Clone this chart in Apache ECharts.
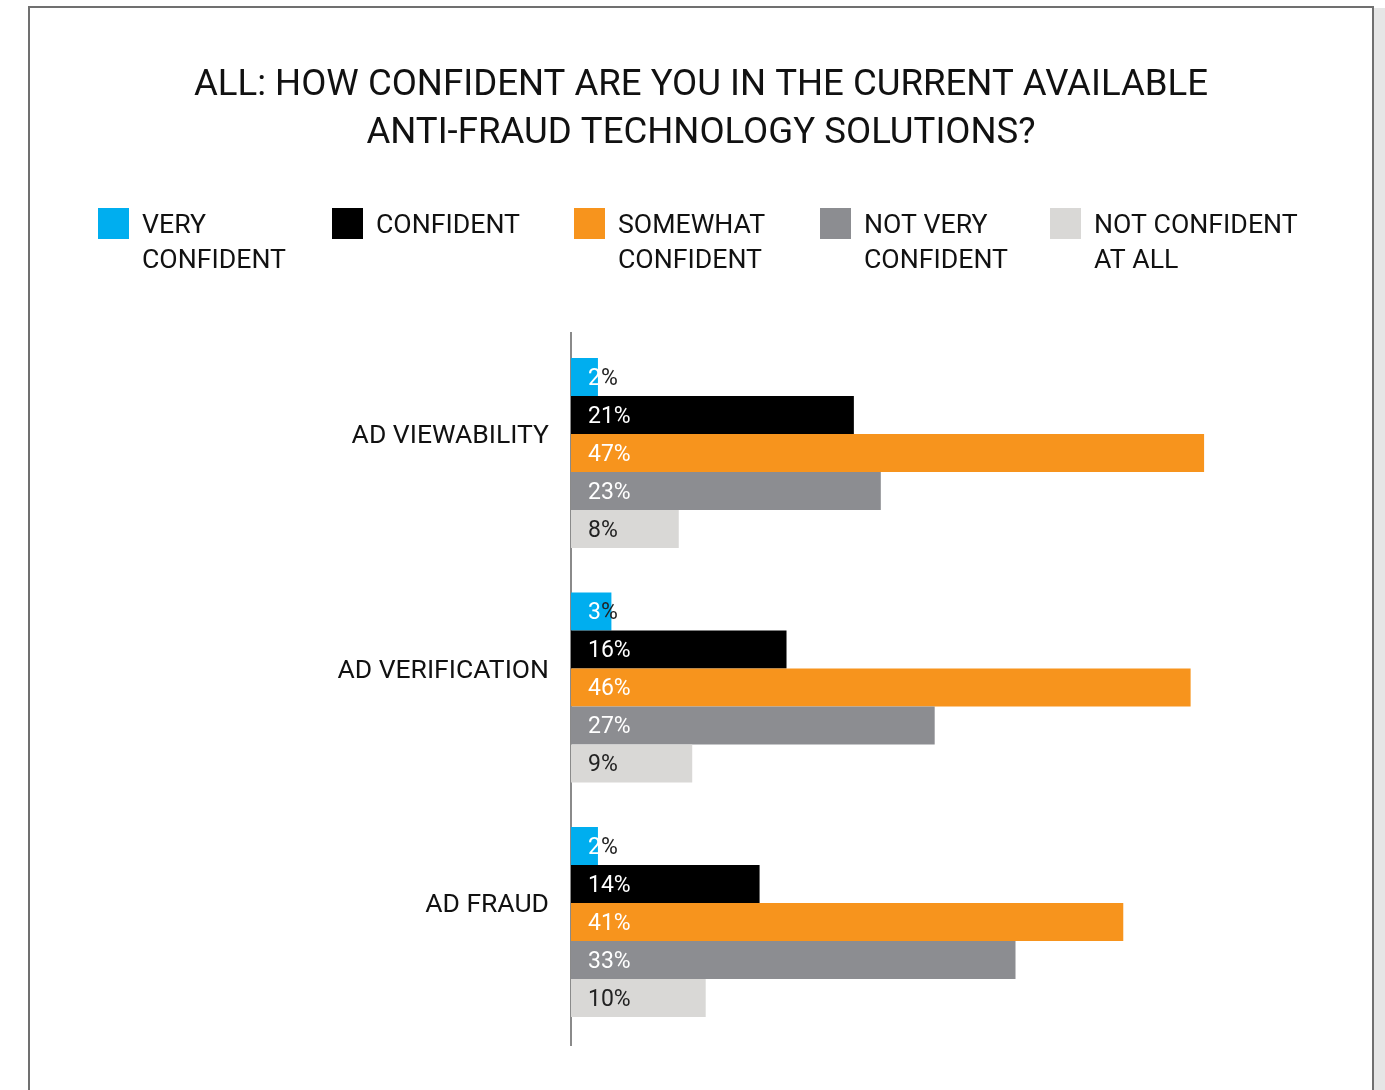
<!DOCTYPE html>
<html><head><meta charset="utf-8">
<script src="https://cdn.jsdelivr.net/npm/echarts@6/dist/echarts.min.js"></script>
<style>html,body{margin:0;padding:0;background:#fff}#c{width:1385px;height:1090px}</style>
</head><body><div id="c"></div>
<script>
const titleText = 'ALL: HOW CONFIDENT ARE YOU IN THE CURRENT AVAILABLE\nANTI-FRAUD TECHNOLOGY SOLUTIONS?';
const categories = ['AD VIEWABILITY', 'AD VERIFICATION', 'AD FRAUD'];
const seriesNames = ['VERY CONFIDENT', 'CONFIDENT', 'SOMEWHAT CONFIDENT', 'NOT VERY CONFIDENT', 'NOT CONFIDENT AT ALL'];
const legendLabels = ['VERY\nCONFIDENT', 'CONFIDENT', 'SOMEWHAT\nCONFIDENT', 'NOT VERY\nCONFIDENT', 'NOT CONFIDENT\nAT ALL'];
const veryConfident = [2, 3, 2];
const confident = [21, 16, 14];
const somewhatConfident = [47, 46, 41];
const notVeryConfident = [23, 27, 33];
const notConfidentAtAll = [8, 9, 10];
const allValues = [veryConfident, confident, somewhatConfident, notVeryConfident, notConfidentAtAll];
const colors = ['#00AEEF', '#000000', '#F7941D', '#8C8D91', '#D9D8D6'];
const labelColors = ['#ffffff', '#ffffff', '#ffffff', '#ffffff', '#222222'];
const legendLefts = [98, 332, 574, 820, 1050];
const FONT = 'Roboto';

const chart = echarts.init(document.getElementById('c'));
const series = seriesNames.map((name, i) => ({
  name, type: 'bar', data: allValues[i], barWidth: 38, barGap: '0%',
  itemStyle: { color: colors[i] },
  label: {
    show: true, position: 'insideLeft', distance: 17, offset: [0, 2],
    fontFamily: FONT, fontSize: 23, color: labelColors[i],
    formatter: i === 0 ? (p => '{w|' + p.value + '}{d|%}') : '{c}%',
    rich: { w: { color: '#ffffff', fontFamily: FONT, fontSize: 23 }, d: { color: '#222222', fontFamily: FONT, fontSize: 23 } }
  }
}));
const legends = seriesNames.map((name, i) => ({
  data: [name], left: legendLefts[i], top: 174, padding: 0,
  itemWidth: 31, itemHeight: 37, icon: 'path://M0,0H31V31H0Z M0,37L0.01,37',
  formatter: () => {
    const parts = legendLabels[i].split('\n');
    return parts.length === 2 ? '\n' + legendLabels[i] : '\n' + legendLabels[i] + '\n';
  },
  textStyle: { fontFamily: FONT, fontSize: 26.7, color: '#111', lineHeight: 35, padding: [0, 0, 0, 8] },
  selectedMode: false
}));
chart.setOption({
  backgroundColor: '#ffffff',
  animation: false,
  graphic: [
    { type: 'rect', shape: { x: 1374, y: 8, width: 11, height: 1090 }, style: { fill: '#e6e6e6' }, z: -1 },
    { type: 'rect', shape: { x: 29, y: 7, width: 1344, height: 1100 }, style: { fill: '#ffffff', stroke: '#707070', lineWidth: 2 }, z: -1 },
    { type: 'line', shape: { x1: 571, y1: 332, x2: 571, y2: 1046 }, style: { stroke: '#8a8a8a', lineWidth: 2 }, z: 0 },
    { type: 'text', x: 701, y: 62, z: 5,
      style: { text: titleText, align: 'center', verticalAlign: 'top', fontFamily: FONT, fontSize: 36.6, lineHeight: 48, fill: '#111' } }
  ],
  legend: legends,
  grid: { left: 571, top: 335.75, width: 673.5, height: 703.5, containLabel: false },
  xAxis: { type: 'value', min: 0, max: 50, show: false },
  yAxis: {
    type: 'category', data: categories, inverse: true,
    axisLine: { show: true, lineStyle: { color: '#8a8a8a', width: 2 } },
    axisTick: { show: false },
    axisLabel: { fontFamily: FONT, fontSize: 26.5, color: '#111', margin: 22, lineHeight: 33, formatter: v => v + '\n' }
  },
  series
});
</script></body></html>
